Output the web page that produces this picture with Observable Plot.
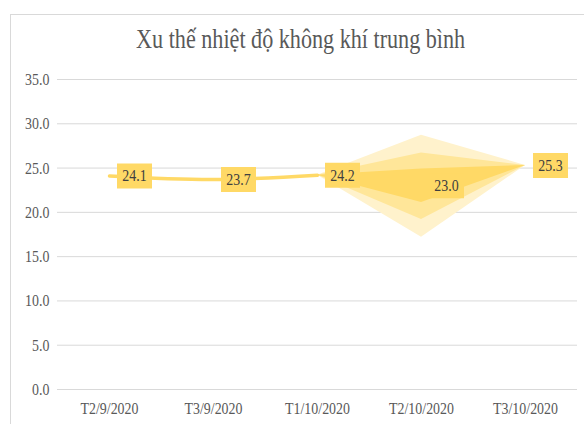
<!DOCTYPE html>
<html>
<head>
<meta charset="utf-8">
<script src="https://cdn.jsdelivr.net/npm/d3@7"></script>
<script src="https://cdn.jsdelivr.net/npm/@observablehq/plot@0.6"></script>
<style>
  html, body { margin: 0; padding: 0; background: #fff; }
  #wrap { position: relative; width: 584px; height: 424px; overflow: hidden; }
  #frame { position: absolute; left: 10px; top: 14px; width: 620px; height: 460px; border: 1px solid #d9d9d9; box-sizing: border-box; }
  #title { position: absolute; left: 0; top: 26px; width: 602px; text-align: center;
           font-family: "Liberation Serif", serif; font-size: 27px; color: #595959; line-height: 1; white-space: nowrap; }
  #title span { display: inline-block; transform: scaleX(0.82); transform-origin: center; }
  #chart { position: absolute; left: 0; top: 0; }
  #chart svg, #chart svg text { font-family: "Liberation Serif", serif !important; }
</style>
</head>
<body>
<div id="wrap">
  <div id="frame"></div>
  <div id="title"><span>Xu thế nhiệt độ không khí trung bình</span></div>
  <div id="chart"></div>
</div>
<script>
const categories = ["T2/9/2020", "T3/9/2020", "T1/10/2020", "T2/10/2020", "T3/10/2020"];
const values = [24.1, 23.7, 24.2, 23.0, 25.3];
const yTicks = [0, 5, 10, 15, 20, 25, 30, 35];
const actualCount = 3;
const forecastCats = ["T1/10/2020", "T2/10/2020", "T3/10/2020"];
const outerLo = [24.2, 17.2, 25.3];
const outerHi = [24.2, 28.7, 25.3];
const midLo = [24.2, 19.2, 25.3];
const midHi = [24.2, 26.7, 25.3];
const innerLo = [24.2, 21.1, 25.3];
const innerHi = [24.2, 24.9, 25.3];

const data = categories.map((c, i) => ({cat: c, value: values[i]}));
const actual = data.slice(0, actualCount);
const band = (lo, hi) => forecastCats.map((c, i) => ({cat: c, lo: lo[i], hi: hi[i]}));

const boxSymbol = { draw(ctx) { ctx.rect(-17.5, -12.5, 35, 25); } };

const chart = Plot.plot({
  width: 584,
  height: 424,
  marginTop: 79,
  marginBottom: 35,
  marginLeft: 57,
  marginRight: 7,
  style: { fontFamily: "'Liberation Serif', serif", fontSize: "17px", color: "#595959", background: "transparent" },
  x: { type: "point", domain: categories, padding: 0.5, label: null, tickSize: 0, tickPadding: 12 },
  y: { domain: [0, 35], ticks: yTicks, label: null, tickSize: 0, tickPadding: 8, tickFormat: d3.format(".1f") },
  marks: [
    Plot.ruleY(yTicks, { stroke: "#d9d9d9", strokeWidth: 1 }),
    Plot.areaY(band(outerLo, outerHi), { x: "cat", y1: "lo", y2: "hi", fill: "#FFF2CC" }),
    Plot.areaY(band(midLo, midHi), { x: "cat", y1: "lo", y2: "hi", fill: "#FFE699" }),
    Plot.areaY(band(innerLo, innerHi), { x: "cat", y1: "lo", y2: "hi", fill: "#FFD966" }),
    Plot.line(actual, { x: "cat", y: "value", stroke: "#FFD966", strokeWidth: 3.5, curve: "catmull-rom" }),
    Plot.dot(data, { x: "cat", y: "value", symbol: boxSymbol, fill: "#FFD966", stroke: null, dx: 25 }),
    Plot.text(data, { x: "cat", y: "value", text: d => d.value.toFixed(1), dx: 25, fill: "#404040", fontSize: 17 })
  ]
});
document.getElementById("chart").appendChild(chart);

// horizontally condense all text like the reference
const S = 0.82;
chart.querySelectorAll("text").forEach(t => {
  t.setAttribute("font-family", "Liberation Serif");
  const tr = t.getAttribute("transform");
  if (tr) {
    t.setAttribute("transform", tr + ` scale(${S},1)`);
  } else {
    const x = +(t.getAttribute("x") || 0);
    t.setAttribute("transform", `translate(${x},0) scale(${S},1) translate(${-x},0)`);
  }
});
</script>
</body>
</html>
